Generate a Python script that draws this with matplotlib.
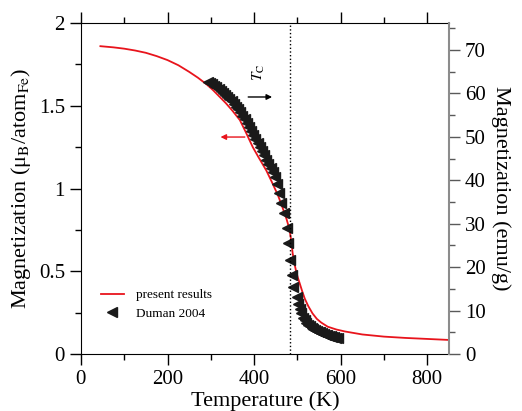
import matplotlib
matplotlib.use("Agg")
import matplotlib.pyplot as plt
from matplotlib.ticker import MultipleLocator

plt.rcParams['font.family'] = ['Liberation Serif', 'DejaVu Serif']
plt.rcParams['mathtext.fontset'] = 'stix'

# calculated magnetization (mu_B per Fe atom)
calc_T = [45, 75, 100, 125, 150, 175, 200, 225, 250, 270, 290, 305, 320,
          335, 350, 367, 380, 397, 410, 428, 440, 455, 465, 475, 482, 486,
          489, 493, 497, 501, 505, 511, 517, 525, 535, 545, 555, 570, 590,
          610, 650, 700, 750, 800, 849]
calc_M = [1.860, 1.853, 1.845, 1.834, 1.820, 1.800, 1.776, 1.745, 1.705,
          1.670, 1.630, 1.595, 1.555, 1.515, 1.470, 1.414, 1.345, 1.250,
          1.190, 1.110, 1.045, 0.960, 0.890, 0.815, 0.750, 0.680, 0.610,
          0.550, 0.500, 0.462, 0.430, 0.380, 0.335, 0.290, 0.245, 0.212,
          0.190, 0.165, 0.148, 0.136, 0.118, 0.105, 0.097, 0.091, 0.085]

# measured data, Duman 2004
exp_T = [293, 298, 303, 308, 313, 318, 323, 328, 333, 338, 343, 348, 353,
         358, 363, 368, 373, 378, 383, 388, 393, 398, 403, 408, 413, 418,
         423, 428, 433, 438, 443, 448, 452, 457, 463, 468, 475, 478, 484,
         487, 491, 498, 501, 505, 509, 513, 517, 521, 525, 529, 533, 537,
         541, 545, 549, 553, 557, 561, 565, 569, 573, 577, 581, 585, 589, 593]
exp_M = [1.645, 1.638, 1.630, 1.622, 1.613, 1.603, 1.592, 1.580, 1.567,
         1.555, 1.542, 1.528, 1.512, 1.495, 1.478, 1.460, 1.440, 1.418,
         1.395, 1.372, 1.348, 1.323, 1.298, 1.272, 1.250, 1.225, 1.200,
         1.175, 1.150, 1.125, 1.100, 1.070, 1.03, 0.97, 0.91, 0.85, 0.76,
         0.67, 0.57, 0.48, 0.405, 0.345, 0.30, 0.27, 0.245, 0.22, 0.205,
         0.19, 0.178, 0.168, 0.16, 0.152, 0.145, 0.14, 0.135, 0.13, 0.125,
         0.12, 0.117, 0.113, 0.11, 0.107, 0.104, 0.101, 0.098, 0.095]

T_curie = 482

fig = plt.figure(figsize=(5.22, 4.11), dpi=100)
ax = fig.add_axes([0.155, 0.1387, 0.705, 0.8053])

ax.plot(calc_T, calc_M, color='#e8141c', lw=1.3, label='present results')
ax.plot(exp_T, exp_M, ls='none', marker='<', color='#1a1a1a', ms=6.5,
        label='Duman 2004')
ax.axvline(T_curie, color='k', ls=':', lw=1.0)

ax.set_xlim(0, 850)
ax.set_ylim(0, 2)
ax.xaxis.set_major_locator(MultipleLocator(200))
ax.xaxis.set_minor_locator(MultipleLocator(100))
ax.yaxis.set_minor_locator(MultipleLocator(0.25))
ax.set_yticks([0, 0.5, 1, 1.5, 2])
ax.set_yticklabels(['0', '0.5', '1', '1.5', '2'])
ax.tick_params(which='both', direction='out', top=True, right=False,
               labelsize=15, width=1)
ax.tick_params(which='major', length=8)
ax.tick_params(which='minor', length=4)
ax.spines['right'].set_visible(False)

ax.set_xlabel('Temperature (K)', fontsize=16)
ax.xaxis.set_label_coords(0.5, -0.112)
ax.set_ylabel('Magnetization (μ$_{\\rm B}$/atom$_{\\rm Fe}$)', fontsize=16)

# right axis in emu/g
ax2 = ax.twinx()
ax2.set_ylim(0, 76.2)
ax2.yaxis.set_major_locator(MultipleLocator(10))
ax2.yaxis.set_minor_locator(MultipleLocator(5))
ax2.tick_params(which='both', direction='out', labelsize=15, width=1,
                color='0.35')
ax2.tick_params(which='major', length=8)
ax2.tick_params(which='minor', length=4)
for side in ['left', 'top', 'bottom']:
    ax2.spines[side].set_visible(False)
ax2.spines['right'].set_color('0.55')
ax2.spines['right'].set_linewidth(1.5)
ax2.set_ylabel('Magnetization (emu/g)', fontsize=16, rotation=-90,
               labelpad=18)

# arrows showing which axis goes with which data
ax.annotate('', xy=(448, 1.553), xytext=(380, 1.553),
            arrowprops=dict(arrowstyle='-|>', color='k', lw=1,
                            mutation_scale=8))
ax.annotate('', xy=(316, 1.311), xytext=(385, 1.311),
            arrowprops=dict(arrowstyle='-|>', color='#e8141c', lw=1,
                            mutation_scale=8))
ax.text(411, 1.70, '$T_{\\rm C}$', rotation=90, fontsize=11,
        ha='center', va='center')

ax.legend(loc='center left', bbox_to_anchor=(0.054, 0.15), frameon=False,
          fontsize=9.5, borderpad=0, borderaxespad=0, handlelength=1.75,
          handletextpad=0.9, labelspacing=0.45, numpoints=1)

fig.savefig('out.png', dpi=100)
